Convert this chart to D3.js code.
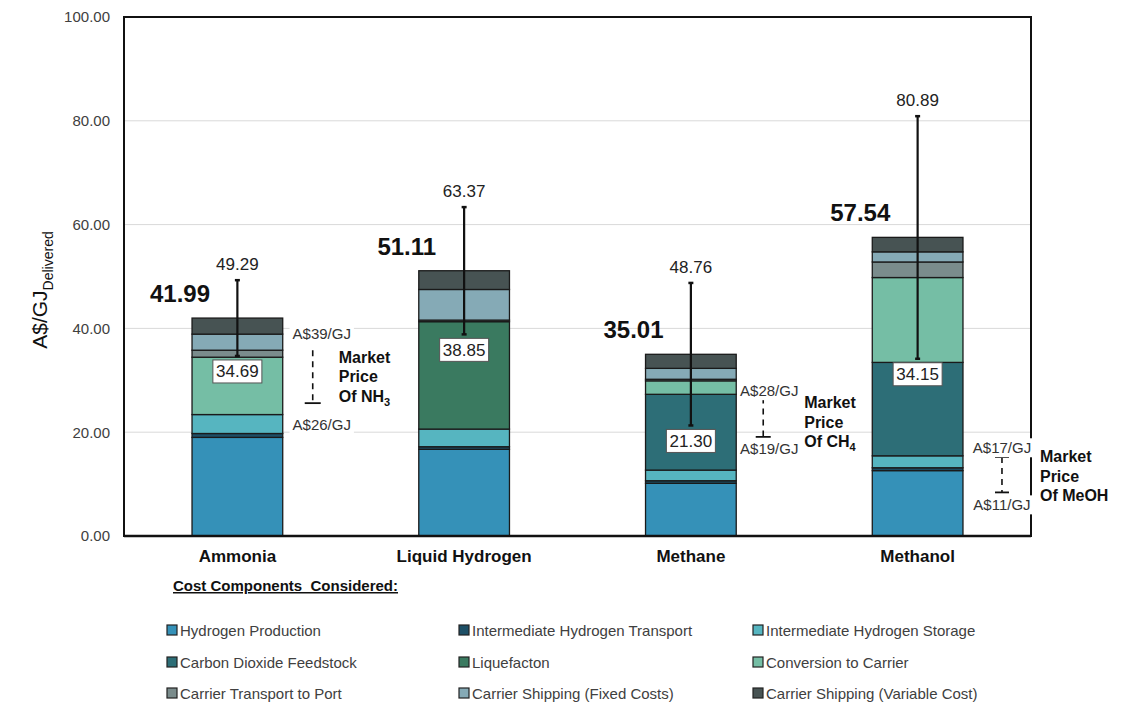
<!DOCTYPE html>
<html><head><meta charset="utf-8">
<script src="https://cdn.jsdelivr.net/npm/d3@7"></script>
<style>
html,body{margin:0;padding:0;background:#fff;}
svg{display:block;font-family:"Liberation Sans",Arial,sans-serif;}
</style></head>
<body><svg id="c" width="1124" height="704"></svg>
<script>
// ---------- data ----------
const categories = ["Ammonia", "Liquid Hydrogen", "Methane", "Methanol"];
const componentNames = ["Hydrogen Production", "Intermediate Hydrogen Transport", "Intermediate Hydrogen Storage",
  "Carbon Dioxide Feedstock", "Liquefacton", "Conversion to Carrier",
  "Carrier Transport to Port", "Carrier Shipping (Fixed Costs)", "Carrier Shipping (Variable Cost)"];
const componentColors = ["#3591b8", "#1d4f66", "#56b5c0", "#2d6e77", "#3a7a60", "#75bea5", "#7a8c8c", "#85aab6", "#475353"];
const hydrogenProduction = [19.0, 16.7, 10.15, 12.6];
const intermediateH2Transport = [0.75, 0.5, 0.5, 0.55];
const intermediateH2Storage = [3.65, 3.4, 2.05, 2.3];
const co2Feedstock = [0, 0, 14.6, 18.0];
const liquefaction = [0, 20.7, 0, 0];
const conversionToCarrier = [11.05, 0, 2.6, 16.35];
const carrierTransportToPort = [1.35, 0.3, 0.3, 3.0];
const shippingFixed = [3.1, 5.9, 2.1, 1.95];
const shippingVariable = [3.09, 3.61, 2.71, 2.79];
const seriesValues = [hydrogenProduction, intermediateH2Transport, intermediateH2Storage, co2Feedstock,
  liquefaction, conversionToCarrier, carrierTransportToPort, shippingFixed, shippingVariable];
const totals = [41.99, 51.11, 35.01, 57.54];
const rangeLow = [34.69, 38.85, 21.30, 34.15];
const rangeHigh = [49.29, 63.37, 48.76, 80.89];
const yTicks = [0, 20, 40, 60, 80, 100];

const marketCats = ["Ammonia", "Methane", "Methanol"];
const marketHigh = [39, 28, 17];
const marketLow = [26, 19, 11];
const marketChem = ["NH", "CH", "MeOH"];
const marketSub = ["3", "4", ""];
const dashTop = [35.8, 26.7, 15.2];
const dashBottom = [25.6, 19.1, 8.4];
const lowLabelAt = [21.4, 16.8, 6.0];
const marketTextAt = [34.4, 25.7, 15.3];

// ---------- layout ----------
const L = 124, R = 1031, T = 17, B = 536;
const svg = d3.select("#c");
const x = d3.scaleBand().domain(categories).range([L, R]).paddingInner(0.6).paddingOuter(0.3);
const y = d3.scaleLinear().domain([0, 100]).range([B, T]);

// gridlines
svg.append("g").selectAll("line").data(yTicks.filter(t => t > 0 && t < 100)).join("line")
  .attr("x1", L).attr("x2", R).attr("y1", d => y(d)).attr("y2", d => y(d))
  .attr("stroke", "#d9d9d9").attr("stroke-width", 1);

// y axis labels
const yAxis = d3.axisLeft(y).tickValues(yTicks).tickFormat(d3.format(".2f")).tickSize(0).tickPadding(14);
const gy = svg.append("g").attr("transform", `translate(${L},0)`).call(yAxis);
gy.select(".domain").remove();
gy.selectAll("text").attr("font-size", 15).attr("fill", "#404040").attr("font-family", "Liberation Sans, Arial, sans-serif");

// y title
const yt = svg.append("text").attr("transform", "translate(47,290) rotate(-90)")
  .attr("text-anchor", "middle").attr("fill", "#111");
yt.append("tspan").attr("font-size", 21).text("A$/GJ");
yt.append("tspan").attr("font-size", 14).attr("dy", 6).text("Delivered");

// stacked bars
const rows = categories.map((c, i) => {
  const r = { cat: c };
  componentNames.forEach((n, k) => r[n] = seriesValues[k][i]);
  return r;
});
const stack = d3.stack().keys(componentNames)(rows);
const color = d3.scaleOrdinal().domain(componentNames).range(componentColors);
svg.append("g").selectAll("g").data(stack).join("g").attr("fill", d => color(d.key))
  .selectAll("rect").data(d => d.filter(s => s[1] - s[0] > 0)).join("rect")
  .attr("x", d => x(d.data.cat)).attr("width", x.bandwidth())
  .attr("y", d => y(d[1])).attr("height", d => y(d[0]) - y(d[1]))
  .attr("stroke", "#1a1a1a").attr("stroke-width", 1.3);

// frame
svg.append("rect").attr("x", L).attr("y", T).attr("width", R - L).attr("height", B - T)
  .attr("fill", "none").attr("stroke", "#111").attr("stroke-width", 2);
svg.append("line").attr("x1", L).attr("x2", R).attr("y1", B).attr("y2", B).attr("stroke", "#111").attr("stroke-width", 2.5);

// category labels
svg.append("g").selectAll("text").data(categories).join("text")
  .attr("x", d => x(d) + x.bandwidth() / 2).attr("y", B + 26).attr("text-anchor", "middle")
  .attr("font-size", 17).attr("font-weight", "bold").attr("fill", "#111").text(d => d);

// error bars
const eg = svg.append("g");
categories.forEach((c, i) => {
  const cx = x(c) + x.bandwidth() / 2;
  eg.append("line").attr("x1", cx).attr("x2", cx).attr("y1", y(rangeHigh[i])).attr("y2", y(rangeLow[i]))
    .attr("stroke", "#111").attr("stroke-width", 2.2);
  [rangeHigh[i], rangeLow[i]].forEach(v => eg.append("line").attr("x1", cx - 2.5).attr("x2", cx + 2.5)
    .attr("y1", y(v)).attr("y2", y(v)).attr("stroke", "#111").attr("stroke-width", 2.5));
  // high label
  eg.append("text").attr("x", cx).attr("y", y(rangeHigh[i]) - 10).attr("text-anchor", "middle")
    .attr("font-size", 17).attr("fill", "#222").text(rangeHigh[i].toFixed(2));
  // low label box
  const ly = y(rangeLow[i]) + 4;
  eg.append("rect").attr("x", cx - 24.5).attr("y", ly).attr("width", 49).attr("height", 23)
    .attr("fill", "#fff").attr("stroke", "#555").attr("stroke-width", 1);
  eg.append("text").attr("x", cx).attr("y", ly + 17.5).attr("text-anchor", "middle")
    .attr("font-size", 17).attr("fill", "#222").text(rangeLow[i].toFixed(2));
  // total label
  eg.append("text").attr("x", x(c) - 12).attr("y", y(totals[i]) - 16).attr("text-anchor", "middle")
    .attr("font-size", 24).attr("font-weight", "bold").attr("fill", "#111").text(totals[i].toFixed(2));
});

// market price annotations
const mLayout = [{ dash: 30, lab: 9, txt: 26, cap: 16, topCap: false },
                 { dash: 27, lab: 6, txt: 41, cap: 15, topCap: true },
                 { dash: 39, lab: 0, txt: 38, cap: 14, topCap: true }];
const mg = svg.append("g");
function bgText(g, tx, ty, s) {
  const t = g.append("text").attr("x", tx).attr("y", ty).attr("text-anchor", "middle")
    .attr("dominant-baseline", "central").attr("font-size", 15).attr("fill", "#333").text(s);
  const bb = t.node().getBBox();
  g.insert("rect", () => t.node()).attr("x", bb.x - 3).attr("y", bb.y - 1).attr("width", bb.width + 6)
    .attr("height", bb.height + 2).attr("fill", "#fff");
}
marketCats.forEach((c, i) => {
  const m = mLayout[i];
  const dx = x(c) + x.bandwidth() + m.dash;
  mg.append("line").attr("x1", dx).attr("x2", dx).attr("y1", y(dashTop[i])).attr("y2", y(dashBottom[i]))
    .attr("stroke", "#111").attr("stroke-width", 1.6).attr("stroke-dasharray", "6,5");
  mg.append("line").attr("x1", dx - m.cap / 2).attr("x2", dx + m.cap / 2).attr("y1", y(dashBottom[i])).attr("y2", y(dashBottom[i]))
    .attr("stroke", "#111").attr("stroke-width", 1.8);
  if (m.topCap) mg.append("line").attr("x1", dx - m.cap / 2).attr("x2", dx + m.cap / 2).attr("y1", y(dashTop[i])).attr("y2", y(dashTop[i]))
    .attr("stroke", "#111").attr("stroke-width", 1.8);
  bgText(mg, dx + m.lab, y(marketHigh[i]), `A$${marketHigh[i]}/GJ`);
  bgText(mg, dx + m.lab, y(lowLabelAt[i]), `A$${marketLow[i]}/GJ`);
  const tx = dx + m.txt, ty = y(marketTextAt[i]) + 5.5;
  const lines = ["Market", "Price"];
  lines.forEach((s, k) => mg.append("text").attr("x", tx).attr("y", ty + k * 19.5)
    .attr("font-size", 16).attr("font-weight", "bold").attr("fill", "#111").text(s));
  const t3 = mg.append("text").attr("x", tx).attr("y", ty + 2 * 19.5)
    .attr("font-size", 16).attr("font-weight", "bold").attr("fill", "#111");
  t3.append("tspan").text("Of " + marketChem[i]);
  if (marketSub[i]) t3.append("tspan").attr("font-size", 11).attr("dy", 4).text(marketSub[i]);
});

// legend
svg.append("text").attr("x", 173).attr("y", 591).attr("font-size", 15).attr("font-weight", "bold")
  .attr("fill", "#111").attr("text-decoration", "underline").attr("xml:space", "preserve")
  .style("white-space", "pre").text("Cost Components  Considered:");
const colX = [167, 459, 753];
const rowY = [630, 662, 693];
const lg = svg.append("g");
componentNames.forEach((n, k) => {
  const cx = colX[k % 3], cy = rowY[Math.floor(k / 3)];
  lg.append("rect").attr("x", cx).attr("y", cy - 5).attr("width", 10).attr("height", 10)
    .attr("fill", componentColors[k]).attr("stroke", "#222").attr("stroke-width", 1.2);
  lg.append("text").attr("x", cx + 13).attr("y", cy).attr("dominant-baseline", "central")
    .attr("font-size", 15).attr("fill", "#404040").text(n);
});
</script></body></html>
